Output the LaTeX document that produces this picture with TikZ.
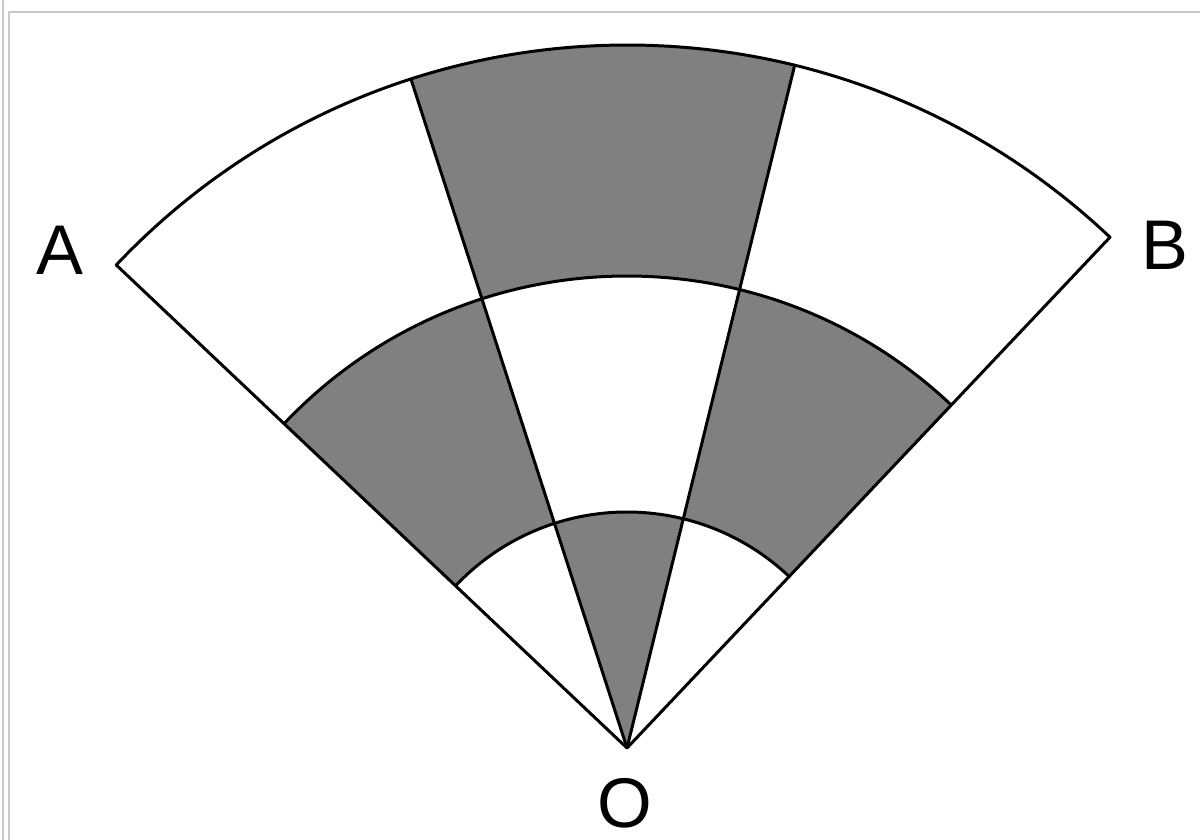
\documentclass[tikz,border=0pt]{standalone}
\usepackage{fontspec}
\setmainfont{Liberation Sans}
\usetikzlibrary{calc}
\definecolor{cellgray}{HTML}{808080}
\definecolor{frame}{HTML}{C8C8C8}

\begin{document}
\begin{tikzpicture}[x=0.01cm,y=0.01cm,line width=.85pt,line join=round,
  lbl/.style={font=\fontsize{20}{24}\selectfont,inner sep=0pt}]
\useasboundingbox (0,0) rectangle (1200,840);
% screenshot frame
\draw[frame,line width=.6pt] (3,0) -- (3,840);
\draw[frame,line width=.6pt] (9,0) -- (9,828) -- (1200,828);
\begin{scope}[shift={(627,92)}]
\coordinate (O) at (0,0);
\coordinate (Aend) at (136.6:703);
\coordinate (Bend) at (46.6:703);
% shaded cells
\fill[cellgray] (O) -- (76.2:236) arc[start angle=76.2,end angle=107.9,radius=236] -- cycle;
\fill[cellgray] (107.9:236) arc[start angle=107.9,end angle=136.6,radius=236] -- (136.6:472) arc[start angle=136.6,end angle=107.9,radius=472] -- cycle;
\fill[cellgray] (46.6:236) arc[start angle=46.6,end angle=76.2,radius=236] -- (76.2:472) arc[start angle=76.2,end angle=46.6,radius=472] -- cycle;
\fill[cellgray] (76.2:472) arc[start angle=76.2,end angle=107.9,radius=472] -- (107.9:703) arc[start angle=107.9,end angle=76.2,radius=703] -- cycle;
% outline
\draw (O) -- (Aend) arc[start angle=136.6,end angle=46.6,radius=703] -- cycle;
\draw (136.6:472) arc[start angle=136.6,end angle=46.6,radius=472];
\draw (136.6:236) arc[start angle=136.6,end angle=46.6,radius=236];
\draw (O) -- (107.9:703);
\draw (O) -- (76.2:703);
\end{scope}
% labels
\node[lbl] (A) at (60,590) {A};
\node[lbl] (B) at (1165,595) {B};
\node[lbl] (Olbl) at (625,37) {O};
\end{tikzpicture}
\end{document}
